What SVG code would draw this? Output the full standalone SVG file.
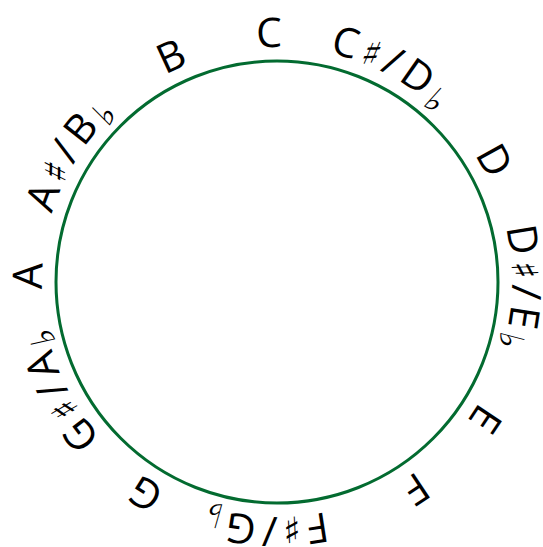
<svg xmlns="http://www.w3.org/2000/svg" xmlns:xlink="http://www.w3.org/1999/xlink" width="543" height="547" viewBox="0 0 543 547">
<style>
.note{font-family:"Open Sans","DejaVu Sans",sans-serif;font-size:41px;fill:#000;letter-spacing:3px;}
.pair{letter-spacing:5px;}
.sh{font-family:"DejaVu Sans",sans-serif;font-size:36px;}
.fl{font-family:"DejaVu Sans",sans-serif;font-size:34px;}
</style>
<defs>
<path id="ring" d="M277,517 A235,235 0 0 1 277,47 A235,235 0 0 1 277,517 A235,235 0 0 1 277,47" fill="none"/>
</defs>
<g id="circle"><circle cx="277" cy="282" r="221" fill="none" stroke="#036b30" stroke-width="3"/></g>
<g id="connectors"></g>
<g id="n-C"><text class="note" text-anchor="middle"><textPath xlink:href="#ring" startOffset="731.7">C</textPath></text></g>
<g id="n-Cs"><text class="note pair" text-anchor="middle"><textPath xlink:href="#ring" startOffset="855.2">C<tspan class="sh">♯</tspan>/D<tspan class="fl" dy="6">♭</tspan></textPath></text></g>
<g id="n-D"><text class="note" text-anchor="middle"><textPath xlink:href="#ring" startOffset="988.5">D</textPath></text></g>
<g id="n-Ds"><text class="note pair" text-anchor="middle"><textPath xlink:href="#ring" startOffset="1114.8">D<tspan class="sh">♯</tspan>/E<tspan class="fl" dy="6">♭</tspan></textPath></text></g>
<g id="n-E"><text class="note" text-anchor="middle"><textPath xlink:href="#ring" startOffset="1245.2">E</textPath></text></g>
<g id="n-F"><text class="note" text-anchor="middle"><textPath xlink:href="#ring" startOffset="1338.3">F</textPath></text></g>
<g id="n-Fs"><text class="note pair" text-anchor="middle"><textPath xlink:href="#ring" startOffset="1488.9">F<tspan class="sh">♯</tspan>/G<tspan class="fl" dy="6">♭</tspan></textPath></text></g>
<g id="n-G"><text class="note" text-anchor="middle"><textPath xlink:href="#ring" startOffset="1607.8">G</textPath></text></g>
<g id="n-Gs"><text class="note pair" text-anchor="middle"><textPath xlink:href="#ring" startOffset="1739.0">G<tspan class="sh">♯</tspan>/A<tspan class="fl" dy="6">♭</tspan></textPath></text></g>
<g id="n-A"><text class="note" text-anchor="middle"><textPath xlink:href="#ring" startOffset="1852.3">A</textPath></text></g>
<g id="n-As"><text class="note pair" text-anchor="middle"><textPath xlink:href="#ring" startOffset="1976.9">A<tspan class="sh">♯</tspan>/B<tspan class="fl" dy="6">♭</tspan></textPath></text></g>
<g id="n-B"><text class="note" text-anchor="middle"><textPath xlink:href="#ring" startOffset="2112.3">B</textPath></text></g>
</svg>
